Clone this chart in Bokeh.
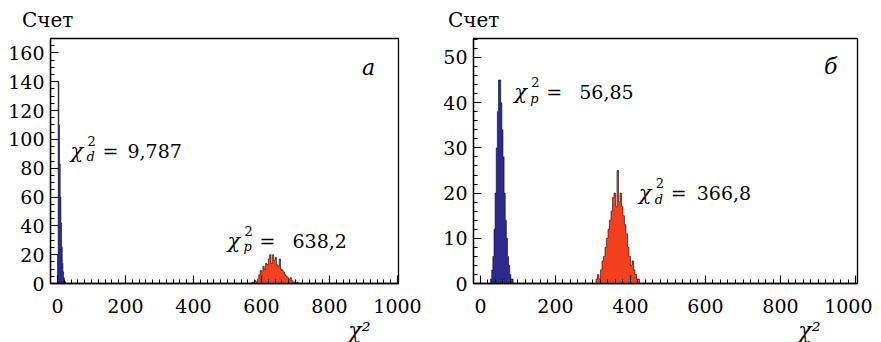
from bokeh.plotting import figure
from bokeh.layouts import row, column
from bokeh.models import Range1d, SingleIntervalTicker, Label, Title, Div
from bokeh.embed import file_html
from bokeh.resources import INLINE
import numpy as np

# ---------------- data ----------------
# panel a
a_blue_start, a_blue_width = 0, 2
a_blue_counts = [20, 140, 110, 83, 60, 42, 25, 14, 8, 4, 2, 1]
a_red_start, a_red_width = 572, 4
a_red_counts = [1, 0, 2, 1, 3, 6, 9, 8, 12, 10, 14, 13, 17, 20, 14, 20, 16, 18,
                13, 12, 17, 10, 9, 8, 6, 5, 4, 3, 4, 2, 1, 1, 0, 1]
# panel b
b_blue_start, b_blue_width = 27, 3
b_blue_counts = [1, 3, 6, 12, 20, 30, 38, 45, 45, 40, 34, 28, 20, 14, 10, 6, 4, 2, 1, 1, 0]
b_red_start, b_red_width = 308, 4
b_red_counts = [1, 2, 1, 3, 5, 6, 8, 10, 12, 14, 16, 19, 20, 17, 25, 18, 20, 17,
                15, 13, 11, 8, 6, 4, 5, 3, 2, 1, 1]

x_ticks_interval = 200
ann_a = [("d", "9,787"), ("p", "638,2")]
ann_b = [("p", "56,85"), ("d", "366,8")]
y_label = "Счет"

BLUE = "#2c2a8e"
RED = "#f2401f"
FONT = "DejaVu Serif"
FS = "19px"
H = 312
DIV_H = 30


def hist(p, start, width, counts, color):
    e = start + width * np.arange(len(counts) + 1)
    c = np.array(counts, dtype=float)
    xs = np.concatenate([[e[0]], np.repeat(e, 2)[1:-1], [e[-1]]])
    ys = np.concatenate([[0], np.repeat(c, 2), [0]])
    p.patch(xs, ys, fill_color=color, line_color=None)
    p.line(xs, ys, line_color="black", line_width=0.8, line_alpha=0.7)


def label(p, x, y, text, size=FS, style="normal", xo=0, yo=0, align="left",
          baseline="alphabetic"):
    p.add_layout(Label(x=x, y=y, text=text, x_offset=xo, y_offset=yo,
                       text_font=FONT, text_font_size=size,
                       text_font_style=style, text_align=align,
                       text_baseline=baseline, text_color="black"))


def chi(p, x, y, sub, num, numoff):
    label(p, x, y, "χ", size="21px", style="italic")
    label(p, x, y, "2", size="13px", xo=17, yo=10)
    label(p, x, y, sub, size="13px", style="italic", xo=16, yo=-6)
    label(p, x, y, "=", xo=32)
    label(p, x, y, num, xo=numoff)


def head(width, pad):
    return Div(text=('<div style="font-family: \'DejaVu Serif\', serif; '
                     'font-size: 20px; line-height: 24px; color: black; '
                     'margin-top: 8px; padding-left: %dpx; white-space: nowrap;">'
                     '%s</div>' % (pad, y_label)),
               width=width, height=DIV_H, margin=0)


def make(width, xr, yr, bl, br, yint, nminor, xlab_off):
    p = figure(width=width, height=H, x_range=Range1d(*xr),
               y_range=Range1d(*yr), output_backend="svg",
               toolbar_location=None, min_border_left=bl,
               min_border_right=br, min_border_top=8, min_border_bottom=57,
               margin=0)
    p.xgrid.visible = False
    p.ygrid.visible = False
    p.outline_line_color = "black"
    p.outline_line_width = 1.3
    p.outline_line_alpha = 1
    p.xaxis.ticker = SingleIntervalTicker(interval=x_ticks_interval, num_minor_ticks=10)
    p.yaxis.ticker = SingleIntervalTicker(interval=yint, num_minor_ticks=nminor)
    for ax in (p.xaxis[0], p.yaxis[0]):
        ax.axis_line_color = "black"
        ax.axis_line_width = 1.3
        ax.major_tick_in = 8
        ax.major_tick_out = 0
        ax.minor_tick_in = 4
        ax.minor_tick_out = 0
        ax.major_tick_line_width = 1.2
        ax.minor_tick_line_width = 1.0
        ax.major_label_text_font = FONT
        ax.major_label_text_font_size = FS
        ax.major_label_text_color = "black"
    p.xaxis.major_label_standoff = 15
    p.yaxis.major_label_standoff = 6
    p.background_fill_color = "white"
    p.border_fill_color = "white"
    xl = Title(text="χ²", align="right", offset=xlab_off, text_font=FONT,
               text_font_size="22px", text_font_style="italic",
               text_color="black", standoff=0)
    p.add_layout(xl, "below")
    return p


# ---------------- panel a ----------------
pa = make(440, (-20.6, 1003), (0, 170), 50, 42, 20, 4, 28)
hist(pa, a_red_start, a_red_width, a_red_counts, RED)
hist(pa, a_blue_start, a_blue_width, a_blue_counts, BLUE)
chi(pa, 38, 92, ann_a[0][0], ann_a[0][1], 57)
chi(pa, 500, 29.7, ann_a[1][0], ann_a[1][1], 65)
label(pa, 915, 150, "а", size="22px", style="italic", align="center",
      baseline="middle")

# ---------------- panel b ----------------
pb = make(432, (-18.6, 1005.3), (0, 54.2), 31, 15, 10, 5, 37)
hist(pb, b_red_start, b_red_width, b_red_counts, RED)
hist(pb, b_blue_start, b_blue_width, b_blue_counts, BLUE)
chi(pb, 90, 42.3, ann_b[0][0], ann_b[0][1], 65)
chi(pb, 422, 20, ann_b[1][0], ann_b[1][1], 58)
label(pb, 934, 48, "б", size="22px", style="italic", align="center",
      baseline="middle")

layout = row(column(head(440, 22), pa, spacing=0),
             column(head(432, 8), pb, spacing=0), spacing=0)
open("out.html", "w").write(file_html(layout, INLINE))
